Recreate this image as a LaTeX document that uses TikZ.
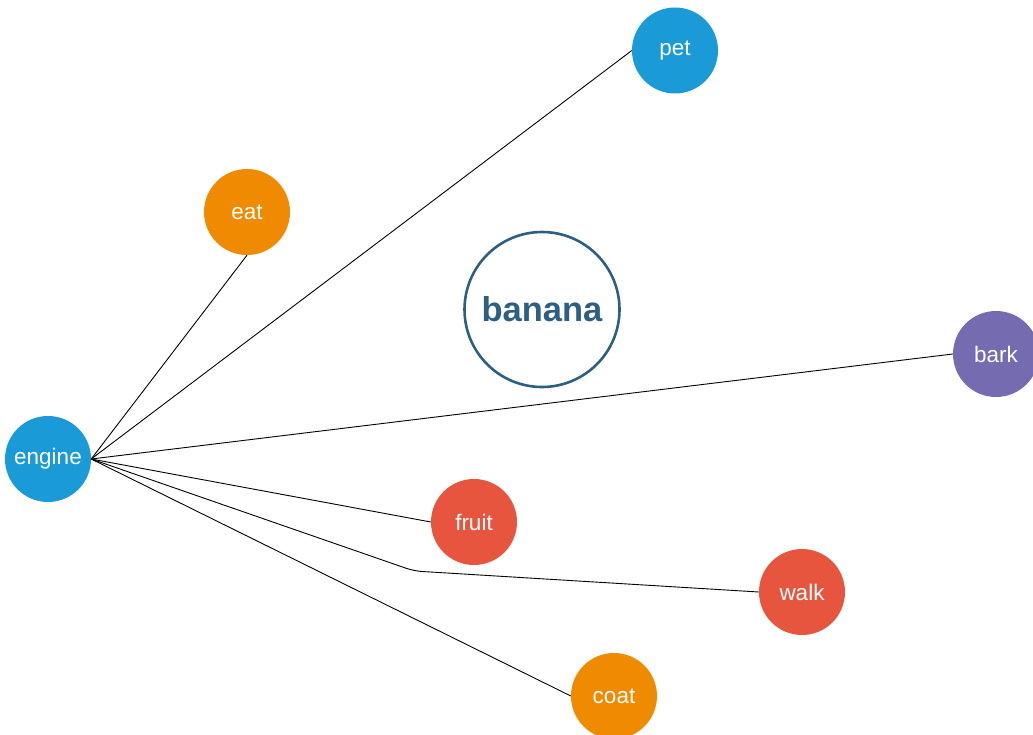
\documentclass[tikz,border=0pt]{standalone}
\usepackage{fontspec}
\setmainfont{Liberation Sans}
\definecolor{cblue}{HTML}{1A9AD6}
\definecolor{corange}{HTML}{F08A00}
\definecolor{cred}{HTML}{E8553F}
\definecolor{cpurple}{HTML}{756BB1}
\definecolor{cdark}{HTML}{2D5F82}
\begin{document}
\begin{tikzpicture}[x=1pt,y=-1pt,
  bub/.style={circle,minimum size=86pt,inner sep=0pt,text=white,font=\fontsize{22.5}{26}\selectfont},
  hub/.style={circle,draw=cdark,line width=2.6pt,fill=white,minimum size=155pt,inner sep=0pt,text=cdark,font=\fontsize{34.5}{40}\selectfont\bfseries},
  link/.style={draw=black,line width=0.9pt}]
\useasboundingbox (0,0) rectangle (1033,735);
\begin{scope}
\clip (0,0) rectangle (1033,735);
\node[hub] (banana) at (542,309.5) {banana};
\node[bub,fill=cblue] (engine) at (48,459) {engine};
\node[bub,fill=cblue] (pet) at (675,50.5) {pet};
\node[bub,fill=corange] (eat) at (247,212) {eat};
\node[bub,fill=cpurple] (bark) at (996,354) {bark};
\node[bub,fill=cred] (fruit) at (474,522) {fruit};
\node[bub,fill=cred] (walk) at (802,592) {walk};
\node[bub,fill=corange] (coat) at (614,696) {coat};
\coordinate (bend) at (414,571);
\draw[link] (engine.east) -- (eat.south);
\draw[link] (engine.east) -- (pet.west);
\draw[link] (engine.east) -- (bark.west);
\draw[link] (engine.east) -- (fruit.west);
\draw[link,rounded corners=8pt] (engine.east) -- (bend) -- (walk.west);
\draw[link] (engine.east) -- (coat.west);
\end{scope}
\end{tikzpicture}
\end{document}
